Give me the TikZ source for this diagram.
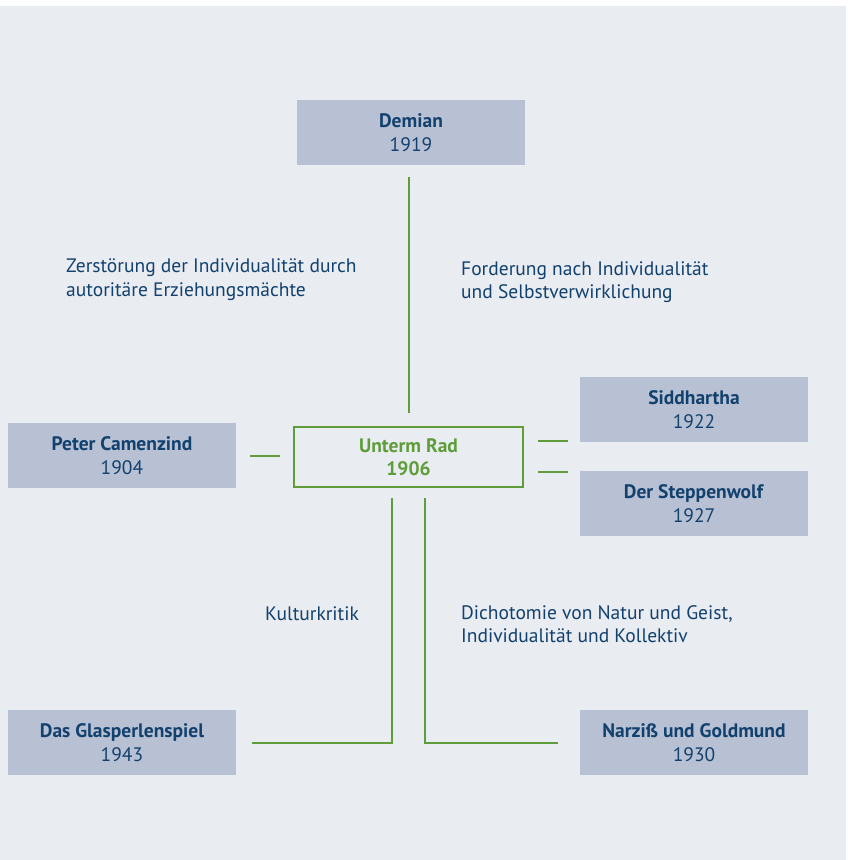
\documentclass[tikz,border=0pt]{standalone}
\usepackage{fontspec}
\setmainfont{PT Sans}
\usetikzlibrary{calc}
\definecolor{bgcolor}{HTML}{E9ECF1}
\definecolor{boxblue}{HTML}{B8C1D4}
\definecolor{textblue}{HTML}{12416E}
\definecolor{radgreen}{HTML}{5E9D3A}

\begin{document}
\begin{tikzpicture}[x=1pt, y=-1pt,
    book/.style={fill=boxblue, text=textblue, minimum width=228pt, minimum height=65pt, align=center, inner sep=0pt, font=\fontsize{19.5}{23.5}\selectfont},
    centre/.style={draw=radgreen, line width=2pt, text=radgreen, minimum width=229pt, minimum height=60pt, align=center, inner sep=0pt, font=\fontsize{19.5}{23.5}\selectfont\bfseries},
    theme/.style={text=textblue, anchor=west, align=left, inner sep=0pt, font=\fontsize{19.5}{23.5}\selectfont},
    link/.style={draw=radgreen, line width=2pt}]
              \useasboundingbox (0,0) rectangle (848,860);
              \fill[bgcolor] (0,6) rectangle (846,860);
              \node[book] (demian) at (411,132.5) {\textbf{Demian}\\1919};
              \node[book] (peter) at (122,455.5) {\textbf{Peter Camenzind}\\1904};
              \node[book] (sidd) at (694,409.5) {\textbf{Siddhartha}\\1922};
              \node[book] (steppe) at (694,503.5) {\textbf{Der Steppenwolf}\\1927};
              \node[book] (glas) at (122,742.5) {\textbf{Das Glasperlenspiel}\\1943};
              \node[book] (narz) at (694,742.5) {\textbf{Narziß und Goldmund}\\1930};
              \node[centre] (rad) at (408.5,457) {Unterm Rad\\1906};
              \node[theme] (zerst) at (66,279.5) {Zerstörung der Individualität durch\\autoritäre Erziehungsmächte};
              \node[theme] (ford) at (461,282) {Forderung nach Individualität\\und Selbstverwirklichung};
              \node[theme] (kultur) at (265,614) {Kulturkritik};
              \node[theme] (dicho) at (461,624) {Dichotomie von Natur und Geist,\\Individualität und Kollektiv};
              \draw[link, shorten <=12pt, shorten >=13pt] (rad.north |- demian.south) -- (rad.north);
              \draw[link, shorten <=14pt, shorten >=13pt] (peter.east) -- (peter.east -| rad.west);
              \draw[link, shorten <=14pt, shorten >=12pt] ([yshift=16pt]rad.east) -- ([yshift=16pt]rad.east -| sidd.west);
              \draw[link, shorten <=14pt, shorten >=12pt] ([yshift=-15pt]rad.east) -- ([yshift=-15pt]rad.east -| steppe.west);
              \draw[link, shorten >=16pt] ([xshift=-16.5pt,yshift=-10pt]rad.south) |- (glas.east);
              \draw[link, shorten >=22pt] ([xshift=16.5pt,yshift=-10pt]rad.south) |- (narz.west);
          \end{tikzpicture}
\end{document}
